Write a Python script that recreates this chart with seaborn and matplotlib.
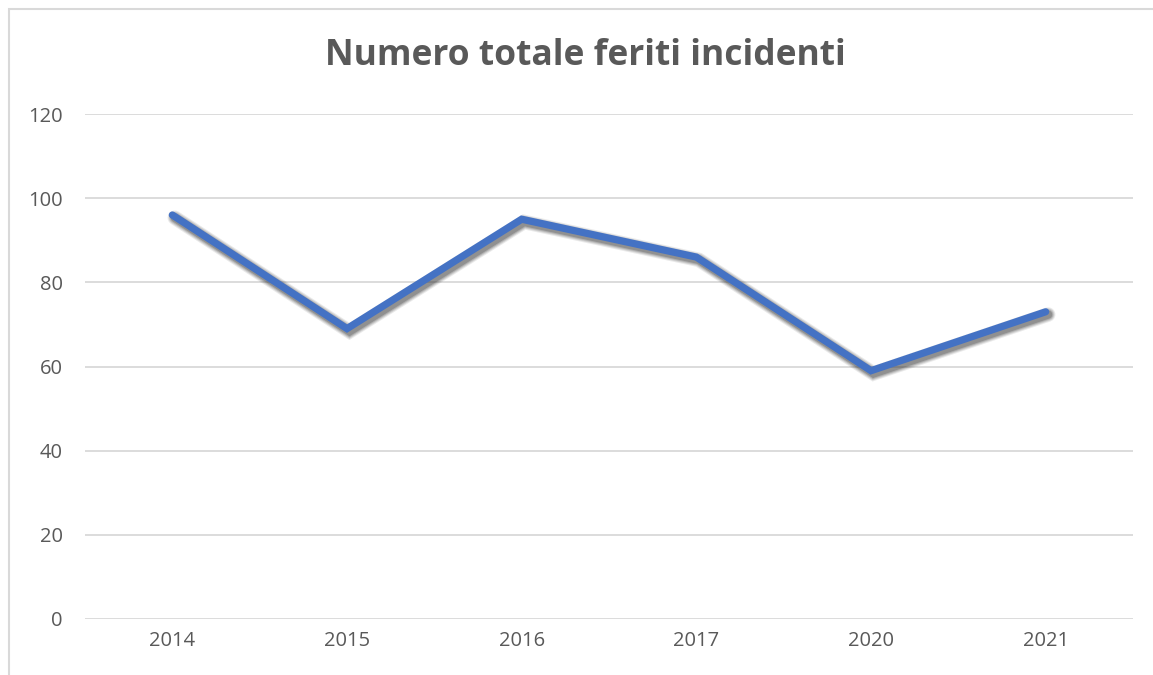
import matplotlib
matplotlib.use("Agg")
import matplotlib.pyplot as plt
import matplotlib.patheffects as pe
from matplotlib.patches import Rectangle
import seaborn as sns
import pandas as pd

# Data
anni = ["2014", "2015", "2016", "2017", "2020", "2021"]
feriti = [96, 69, 95, 86, 59, 73]
y_ticks = [0, 20, 40, 60, 80, 100, 120]
titolo = "Numero totale feriti incidenti"

df = pd.DataFrame({"anno": anni, "feriti": feriti})

sns.set_theme(style="white")
plt.rcParams["font.family"] = ["Open Sans", "DejaVu Sans"]

text_color = "#595959"
grid_color = "#D9D9D9"
line_color = "#4472C4"

fig = plt.figure(figsize=(11.53, 6.75), dpi=100)
ax = fig.add_axes([85 / 1153, 56 / 675, 1048 / 1153, 505 / 675])

# Soft drop shadow beneath the series line
shadow = []
for w, a in [(10.5, 0.10), (9, 0.14), (7.5, 0.18), (6, 0.25)]:
    shadow.append(pe.SimpleLineShadow(offset=(1.8, -2.0), shadow_color="#303030",
                                      alpha=a, linewidth=w))
shadow.append(pe.Normal())

sns.lineplot(data=df, x="anno", y="feriti", ax=ax, color=line_color,
             linewidth=5.2, sort=False, zorder=3,
             path_effects=shadow)
for ln in ax.lines:
    ln.set_solid_capstyle("round")
    ln.set_solid_joinstyle("miter")

ax.set_xlim(-0.5, len(anni) - 0.5)
ax.set_ylim(0, 120)
ax.set_yticks(y_ticks)
ax.set_yticklabels([str(v) for v in y_ticks])
ax.yaxis.grid(True, color=grid_color, linewidth=1.3)
ax.xaxis.grid(False)
ax.set_axisbelow(True)
for s in ax.spines.values():
    s.set_visible(False)
ax.tick_params(axis="both", length=0, labelsize=14.5, labelcolor=text_color)
ax.tick_params(axis="y", pad=16)
ax.tick_params(axis="x", pad=9)
ax.set_xlabel("")
ax.set_ylabel("")

fig.text(585 / 1153, 1 - 56 / 675, titolo, ha="center", va="center",
         fontsize=25.5, fontweight="bold", color=text_color)

# Light chart-area frame
fig.patches.append(Rectangle((9 / 1153, -0.05), 1.2, 1.05 - 9 / 675,
                             transform=fig.transFigure, fill=False,
                             edgecolor="#D9D9D9", linewidth=1.5, zorder=0))

fig.savefig("out.png", dpi=100, facecolor="white")
